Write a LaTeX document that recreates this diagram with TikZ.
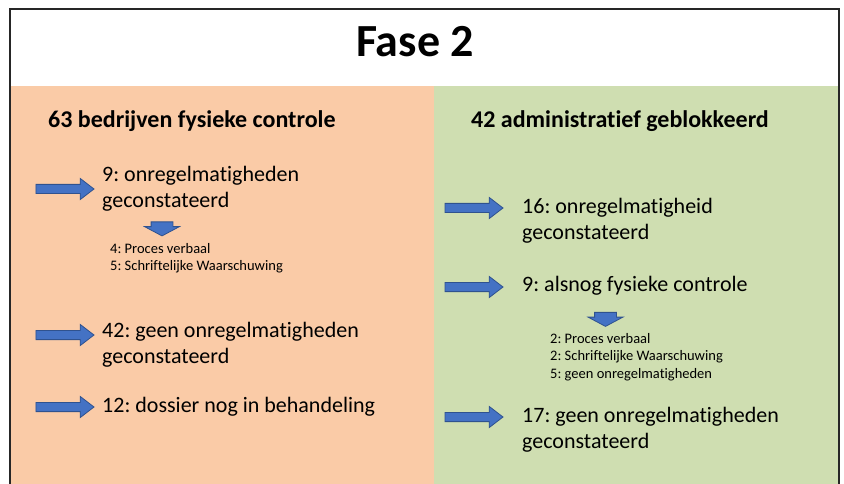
\documentclass[tikz,border=0pt]{standalone}
\usepackage{fontspec}
\setmainfont[Ligatures=NoCommon]{Carlito}
\usepackage{tikz}
\usetikzlibrary{shapes.arrows}
\usetikzlibrary{positioning}
\frenchspacing

\definecolor{oranje}{HTML}{FACBA7}
\definecolor{groen}{HTML}{CFDEB1}
\definecolor{pijlblauw}{HTML}{4472C4}
\definecolor{pijlrand}{HTML}{2F528F}
\definecolor{rand}{HTML}{262626}

\begin{document}
\begin{tikzpicture}[x=1pt,y=-1pt,
	pijl/.style={single arrow,fill=pijlblauw,draw=pijlrand,line width=0.8pt,minimum height=58pt,minimum width=0pt,inner xsep=0pt,inner ysep=4.2pt,single arrow head extend=6pt,single arrow tip angle=75},
	pijlomlaag/.style={single arrow,fill=pijlblauw,draw=pijlrand,line width=0.8pt,rotate=-90,minimum height=14pt,minimum width=0pt,inner xsep=0pt,inner ysep=10.5pt,single arrow head extend=6.5pt,single arrow tip angle=124},
	titel/.style={font=\fontsize{46}{55}\selectfont\bfseries,anchor=base,inner sep=0pt},
	kop/.style={font=\fontsize{24}{29}\selectfont\bfseries,anchor=base west,inner sep=0pt},
	tekst/.style={font=\fontsize{22}{26}\selectfont,anchor=west,align=left,inner sep=0pt},
	klein/.style={font=\fontsize{14.5}{17.5}\selectfont,anchor=west,align=left,inner sep=0pt}]
			
			\useasboundingbox (0,0) rectangle (844,484);
			
			% vlakken
			\fill[white] (0,0) rectangle (844,484);
			\fill[oranje] (11,86) rectangle (434,484);
			\fill[groen] (434,86) rectangle (838,484);
			\draw[rand,line width=1.6pt] (10,490) -- (10,9) -- (839,9) -- (839,490);
			
			\node[titel] (titel) at (415,57) {Fase 2};
			
			\node[kop] (kopLinks) at (48,128) {63 bedrijven fysieke controle};
			\node[kop] (kopRechts) at (471,128) {42 administratief geblokkeerd};
			
			% links
			\node[pijl] (pijlL1) at (62,189) {};
			\node[tekst] (onregelL) at (102,188.5) {9: onregelmatigheden\\geconstateerd};
			\node[pijlomlaag] (omlaagL) at (162,226) {};
			\node[klein] (sanctiesL) at (110,258) {4: Proces verbaal\\5: Schriftelijke Waarschuwing};
			
			\node[pijl] (pijlL2) at (62,335) {};
			\node[tekst] (geenL) at (102,344.5) {42: geen onregelmatigheden\\geconstateerd};
			
			\node[pijl] (pijlL3) at (62,407) {};
			\node[tekst] (dossier) at (102,407) {12: dossier nog in behandeling};
			
			% rechts
			\node[pijl] (pijlR1) at (471,208) {};
			\node[tekst] (onregelR) at (522,220.5) {16: onregelmatigheid\\geconstateerd};
			
			\node[pijl] (pijlR2) at (471,287) {};
			\node[tekst] (alsnog) at (522,286) {9: alsnog fysieke controle};
			\node[pijlomlaag] (omlaagR) at (605.5,316.5) {};
			\node[klein] (sanctiesR) at (550,357) {2: Proces verbaal\\2: Schriftelijke Waarschuwing\\5: geen onregelmatigheden};
			
			\node[pijl] (pijlR3) at (471,417) {};
			\node[tekst] (geenR) at (522,430) {17: geen onregelmatigheden\\geconstateerd};
			
		\end{tikzpicture}
\end{document}
